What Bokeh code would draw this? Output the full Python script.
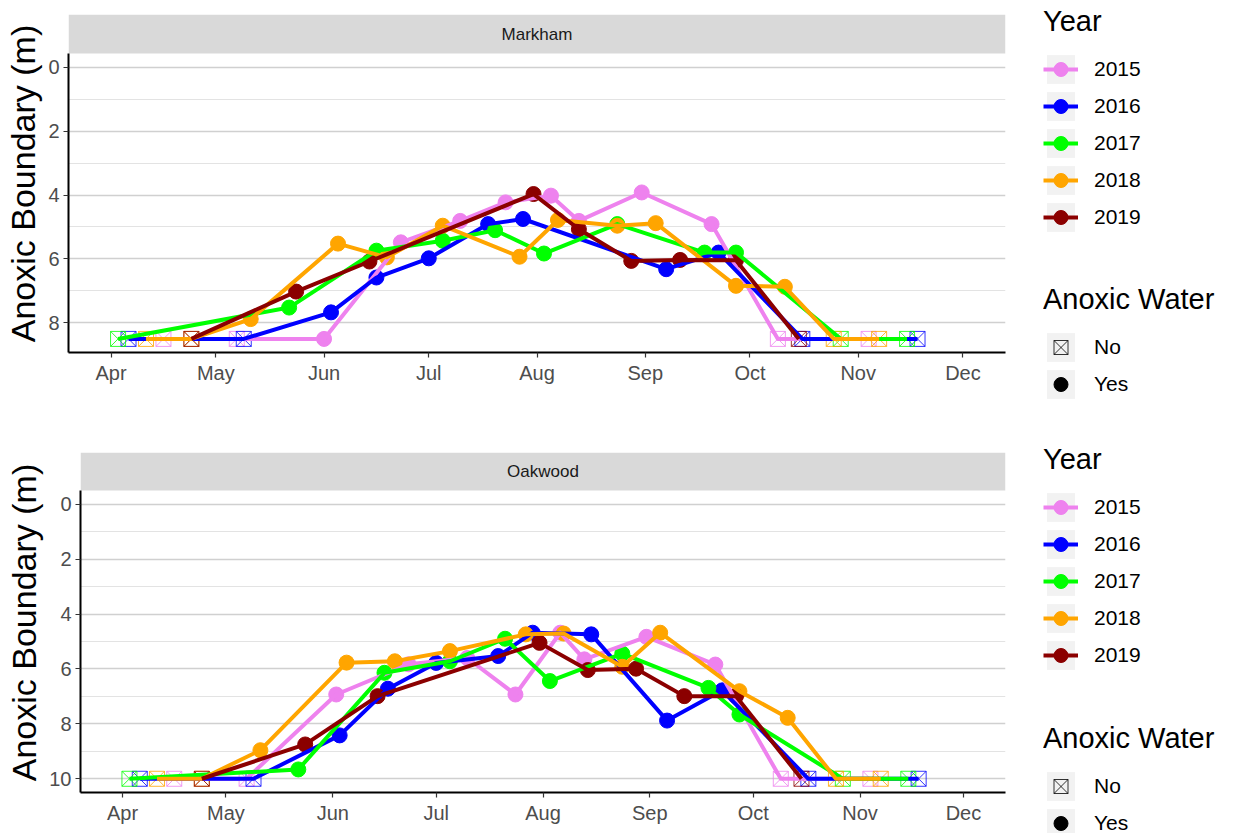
import re
from datetime import datetime
from bokeh.plotting import figure
from bokeh.models import (ColumnDataSource, Range1d, FixedTicker, DatetimeTickFormatter,
                          Legend, LegendItem, BoxAnnotation, Label)
from bokeh.layouts import column
from bokeh.embed import file_html
from bokeh.resources import INLINE

FONT = "Liberation Sans"
PLOT_YEAR = 2019
YEARS = ["2015", "2016", "2017", "2018", "2019"]
YEAR_COLORS = ["#EE82EE", "#0000FF", "#00FF00", "#FFA500", "#8B0000"]
MONTH_STARTS = ["04-01", "05-01", "06-01", "07-01", "08-01", "09-01", "10-01", "11-01", "12-01"]
ANOXIC_LEVELS = ["No", "Yes"]

# ---------------- Markham ----------------
markham_2015_dates = ["04-16", "05-07", "06-01", "06-23", "07-10", "07-23", "08-05", "08-13", "08-31", "09-20", "10-09", "11-04"]
markham_2015_depth = [8.5, 8.5, 8.5, 5.48, 4.81, 4.23, 4.02, 4.81, 3.92, 4.91, 8.5, 8.5]
markham_2015_anoxic = ["No", "No", "Yes", "Yes", "Yes", "Yes", "Yes", "Yes", "Yes", "Yes", "No", "No"]

markham_2016_dates = ["04-06", "05-09", "06-03", "06-16", "07-01", "07-18", "07-28", "09-07", "09-22", "10-16", "11-18"]
markham_2016_depth = [8.5, 8.5, 7.67, 6.58, 5.98, 4.91, 4.75, 6.32, 5.80, 8.5, 8.5]
markham_2016_anoxic = ["No", "No", "Yes", "Yes", "Yes", "Yes", "Yes", "Yes", "Yes", "No", "No"]

markham_2017_dates = ["04-03", "05-22", "06-16", "07-05", "07-20", "08-03", "08-24", "09-18", "09-27", "10-27", "11-15"]
markham_2017_depth = [8.5, 7.52, 5.74, 5.43, 5.10, 5.83, 4.91, 5.80, 5.80, 8.5, 8.5]
markham_2017_anoxic = ["No", "Yes", "Yes", "Yes", "Yes", "Yes", "Yes", "Yes", "Yes", "No", "No"]

markham_2018_dates = ["04-11", "04-24", "05-11", "06-05", "06-19", "07-05", "07-27", "08-07", "08-24", "09-04", "09-27", "10-11", "10-25", "11-07"]
markham_2018_depth = [8.5, 8.5, 7.88, 5.52, 5.95, 4.96, 5.93, 4.78, 4.96, 4.88, 6.84, 6.87, 8.5, 8.5]
markham_2018_anoxic = ["No", "No", "Yes", "Yes", "Yes", "Yes", "Yes", "Yes", "Yes", "Yes", "Yes", "Yes", "No", "No"]

markham_2019_dates = ["04-24", "05-24", "06-14", "07-31", "08-13", "08-28", "09-11", "09-27", "10-15"]
markham_2019_depth = [8.5, 7.02, 6.08, 3.97, 5.07, 6.06, 6.03, 6.04, 8.5]
markham_2019_anoxic = ["No", "Yes", "Yes", "Yes", "Yes", "Yes", "Yes", "Yes", "No"]

# ---------------- Oakwood ----------------
oakwood_2015_dates = ["04-16", "05-07", "06-02", "06-23", "07-10", "07-24", "08-06", "08-13", "08-31", "09-20", "10-09", "11-04"]
oakwood_2015_depth = [10, 10, 6.93, 5.83, 5.60, 6.93, 4.68, 5.65, 4.83, 5.84, 10, 10]
oakwood_2015_anoxic = ["No", "No", "Yes", "Yes", "Yes", "Yes", "Yes", "Yes", "Yes", "Yes", "No", "No"]

oakwood_2016_dates = ["04-06", "05-09", "06-03", "06-17", "07-01", "07-19", "07-29", "08-15", "09-06", "09-22", "10-17", "11-18"]
oakwood_2016_depth = [10, 10, 8.42, 6.72, 5.78, 5.53, 4.68, 4.74, 7.88, 6.78, 10, 10]
oakwood_2016_anoxic = ["No", "No", "Yes", "Yes", "Yes", "Yes", "Yes", "Yes", "Yes", "Yes", "No", "No"]

oakwood_2017_dates = ["04-03", "05-22", "06-16", "07-05", "07-21", "08-03", "08-24", "09-18", "09-27", "10-27", "11-15"]
oakwood_2017_depth = [10, 9.66, 6.14, 5.72, 4.90, 6.44, 5.44, 6.69, 7.66, 10, 10]
oakwood_2017_anoxic = ["No", "Yes", "Yes", "Yes", "Yes", "Yes", "Yes", "Yes", "Yes", "No", "No"]

oakwood_2018_dates = ["04-11", "04-24", "05-11", "06-05", "06-19", "07-05", "07-27", "08-07", "08-24", "09-04", "09-27", "10-11", "10-25", "11-07"]
oakwood_2018_depth = [10, 10, 8.96, 5.77, 5.72, 5.35, 4.74, 4.71, 5.92, 4.68, 6.81, 7.78, 10, 10]
oakwood_2018_anoxic = ["No", "No", "Yes", "Yes", "Yes", "Yes", "Yes", "Yes", "Yes", "Yes", "Yes", "Yes", "No", "No"]

oakwood_2019_dates = ["04-24", "05-24", "06-14", "07-31", "08-14", "08-28", "09-11", "09-26", "10-15"]
oakwood_2019_depth = [10, 8.75, 6.99, 5.05, 6.04, 5.99, 6.99, 6.99, 10]
oakwood_2019_anoxic = ["No", "Yes", "Yes", "Yes", "Yes", "Yes", "Yes", "Yes", "No"]

MARKHAM = {
    "2015": (markham_2015_dates, markham_2015_depth, markham_2015_anoxic),
    "2016": (markham_2016_dates, markham_2016_depth, markham_2016_anoxic),
    "2017": (markham_2017_dates, markham_2017_depth, markham_2017_anoxic),
    "2018": (markham_2018_dates, markham_2018_depth, markham_2018_anoxic),
    "2019": (markham_2019_dates, markham_2019_depth, markham_2019_anoxic),
}
OAKWOOD = {
    "2015": (oakwood_2015_dates, oakwood_2015_depth, oakwood_2015_anoxic),
    "2016": (oakwood_2016_dates, oakwood_2016_depth, oakwood_2016_anoxic),
    "2017": (oakwood_2017_dates, oakwood_2017_depth, oakwood_2017_anoxic),
    "2018": (oakwood_2018_dates, oakwood_2018_depth, oakwood_2018_anoxic),
    "2019": (oakwood_2019_dates, oakwood_2019_depth, oakwood_2019_anoxic),
}


def to_dt(md):
    m, d = md.split("-")
    return datetime(PLOT_YEAR, int(m), int(d))


def to_ms(dt):
    return (dt - datetime(1970, 1, 1)).total_seconds() * 1000.0


RIGHT_BORDER = 228
GLYPH_W = 35
GLYPH_H = 36
LABEL_STANDOFF = 16
LEG_X = 38  # distance from the panel's right edge to the legend keys
KEY_BG = "#F2F2F2"

LEGEND_STYLE = dict(padding=0, margin=0, spacing=1, glyph_width=GLYPH_W, glyph_height=GLYPH_H,
                    label_standoff=LABEL_STANDOFF, label_text_font=FONT,
                    label_text_font_size="21px", label_text_color="#000000",
                    title_text_font=FONT, title_text_font_size="29px",
                    title_text_font_style="normal", title_text_color="#000000", title_standoff=13,
                    border_line_color=None, background_fill_alpha=0.0)


def build(site, series, max_depth, frame_w, panel_h, strip_h, b_left, b_top, b_bottom, leg_y):
    pad = 0.05 * max_depth
    y_bottom = max_depth + pad
    y_top = -pad
    strip_units = strip_h / panel_h * (y_bottom - y_top)
    y_end = y_top - strip_units

    x0 = to_dt(MONTH_STARTS[0])
    x1 = to_dt(MONTH_STARTS[-1])
    xpad = (x1 - x0) * 0.05

    p = figure(frame_width=frame_w, frame_height=panel_h + strip_h,
               x_axis_type="datetime",
               x_range=Range1d(x0 - xpad, x1 + xpad),
               y_range=Range1d(y_bottom, y_end),
               min_border_left=b_left, min_border_right=RIGHT_BORDER,
               min_border_top=b_top, min_border_bottom=b_bottom,
               toolbar_location=None, output_backend="svg",
               outline_line_color=None, background_fill_color="white",
               border_fill_color="white")

    # facet strip
    p.add_layout(BoxAnnotation(top=y_end, bottom=y_top, fill_color="#D9D9D9", fill_alpha=1.0,
                               line_color=None, level="underlay"))
    p.add_layout(Label(x=frame_w / 2, x_units="screen", y=y_top - strip_units / 2, y_units="data",
                       text=site, text_align="center", text_baseline="middle",
                       text_font=FONT, text_font_size="17px", text_color="#1A1A1A"))

    sources = {}
    yes_r = {}
    line_r = {}
    for yr, col in zip(YEARS, YEAR_COLORS):
        dates, depth, anox = series[yr]
        xs = [to_dt(d) for d in dates]
        src_all = ColumnDataSource(dict(x=xs, y=depth))
        src_no = ColumnDataSource(dict(x=[x for x, a in zip(xs, anox) if a == "No"],
                                       y=[v for v, a in zip(depth, anox) if a == "No"]))
        src_yes = ColumnDataSource(dict(x=[x for x, a in zip(xs, anox) if a == "Yes"],
                                        y=[v for v, a in zip(depth, anox) if a == "Yes"]))
        sources[yr] = src_all
        p.scatter("x", "y", source=src_no, marker="square_x", size=15, fill_color=None,
                  line_color=col, line_width=0.8)
        yes_r[yr] = p.scatter("x", "y", source=src_yes, marker="circle", size=15,
                              fill_color=col, line_color=col)
    for yr, col in zip(YEARS, YEAR_COLORS):
        line_r[yr] = p.line("x", "y", source=sources[yr], line_color=col, line_width=4,
                            line_join="round")

    # grey key background proxy (hidden in the plot, drawn only in the legend)
    bg = p.rect("x", "y", width=1, height=1, source=sources[YEARS[0]], fill_color=KEY_BG,
                line_color=None, visible=False)
    leg1 = Legend(items=[LegendItem(label=yr, renderers=[bg, line_r[yr], yes_r[yr]]) for yr in YEARS],
                  title="Year", location=(LEG_X, leg_y), **LEGEND_STYLE)
    p.add_layout(leg1, "right")

    # axes
    major = list(range(0, int(max_depth) + 1, 2))
    minor = [m + 1 for m in major if m + 1 <= max_depth]
    yt = FixedTicker(ticks=major, minor_ticks=minor)
    p.yaxis.ticker = yt
    p.yaxis.bounds = (y_top, y_bottom)
    p.yaxis.axis_label = "Anoxic Boundary (m)"
    p.yaxis.axis_label_text_font = FONT
    p.yaxis.axis_label_text_font_size = "34px"
    p.yaxis.axis_label_text_font_style = "normal"
    p.yaxis.axis_label_text_color = "#000000"
    p.yaxis.axis_label_standoff = 3

    p.xaxis.ticker = FixedTicker(ticks=[to_ms(to_dt(m)) for m in MONTH_STARTS])
    fmt = "%b"
    p.xaxis.formatter = DatetimeTickFormatter(microseconds=fmt, milliseconds=fmt, seconds=fmt,
                                              minsec=fmt, minutes=fmt, hourmin=fmt, hours=fmt,
                                              days=fmt, months=fmt, years=fmt)
    for ax in (p.xaxis, p.yaxis):
        ax.axis_line_color = "#000000"
        ax.axis_line_width = 2
        ax.major_tick_line_color = "#333333"
        ax.major_tick_line_width = 1.2
        ax.major_tick_out = 5
        ax.major_tick_in = 0
        ax.minor_tick_out = 0
        ax.minor_tick_in = 0
        ax.major_label_standoff = 4
        ax.major_label_text_font = FONT
        ax.major_label_text_font_size = "20px"
        ax.major_label_text_color = "#4D4D4D"

    p.xgrid.visible = False
    p.ygrid.ticker = yt
    p.ygrid.grid_line_color = "#D0D0D0"
    p.ygrid.grid_line_width = 1.3
    p.ygrid.minor_grid_line_color = "#E3E3E3"
    p.ygrid.minor_grid_line_width = 1.0
    return p


def anoxic_legend(series, frame_h):
    """Small frame-only figure carrying the 'Anoxic Water' legend."""
    dates, depth, anox = series[YEARS[0]]
    src = ColumnDataSource(dict(x=[to_dt(d) for d in dates], y=depth))
    lf = figure(frame_width=200, frame_height=frame_h, min_border=0,
                x_axis_location=None, y_axis_location=None,
                toolbar_location=None, output_backend="svg", outline_line_color=None,
                background_fill_alpha=0.0, border_fill_alpha=0.0)
    lf.grid.visible = False
    bg = lf.rect("x", "y", width=1, height=1, source=src, fill_color=KEY_BG,
                 line_color=None, visible=False)
    no_proxy = lf.scatter("x", "y", source=src, marker="square_x", size=15, fill_color=None,
                          line_color="black", line_width=0.8, visible=False)
    yes_proxy = lf.scatter("x", "y", source=src, marker="circle", size=15,
                           fill_color="black", line_color="black", visible=False)
    leg = Legend(items=[LegendItem(label=a, renderers=[bg, r])
                        for a, r in zip(ANOXIC_LEVELS, [no_proxy, yes_proxy])],
                 title="Anoxic Water", location="top_left", **LEGEND_STYLE)
    lf.add_layout(leg)
    return lf


top = build("Markham", MARKHAM, 8.5, frame_w=937, panel_h=299, strip_h=39,
            b_left=68, b_top=14, b_bottom=88, leg_y=117.5)
bottom = build("Oakwood", OAKWOOD, 10.0, frame_w=925, panel_h=302, strip_h=38,
               b_left=80, b_top=12, b_bottom=41, leg_y=119)
anox_top = anoxic_legend(MARKHAM, 125)
anox_bottom = anoxic_legend(OAKWOOD, 111)

# two independent stacked roots (no forced frame alignment) + two overlaid legend roots
html = file_html([column(top), column(bottom), anox_top, anox_bottom], INLINE)
for fig, (lx, ly) in [(anox_top, (1043, 283)), (anox_bottom, (1043, 722))]:
    pat = re.compile(r'(<div[^>]*data-root-id="%s"[^>]*>\s*</div>)' % re.escape(fig.id))
    html = pat.sub(lambda m: '<div style="position:absolute;left:%dpx;top:%dpx;">%s</div>'
                   % (lx, ly, m.group(1)), html, count=1)
open("out.html", "w").write(html)
